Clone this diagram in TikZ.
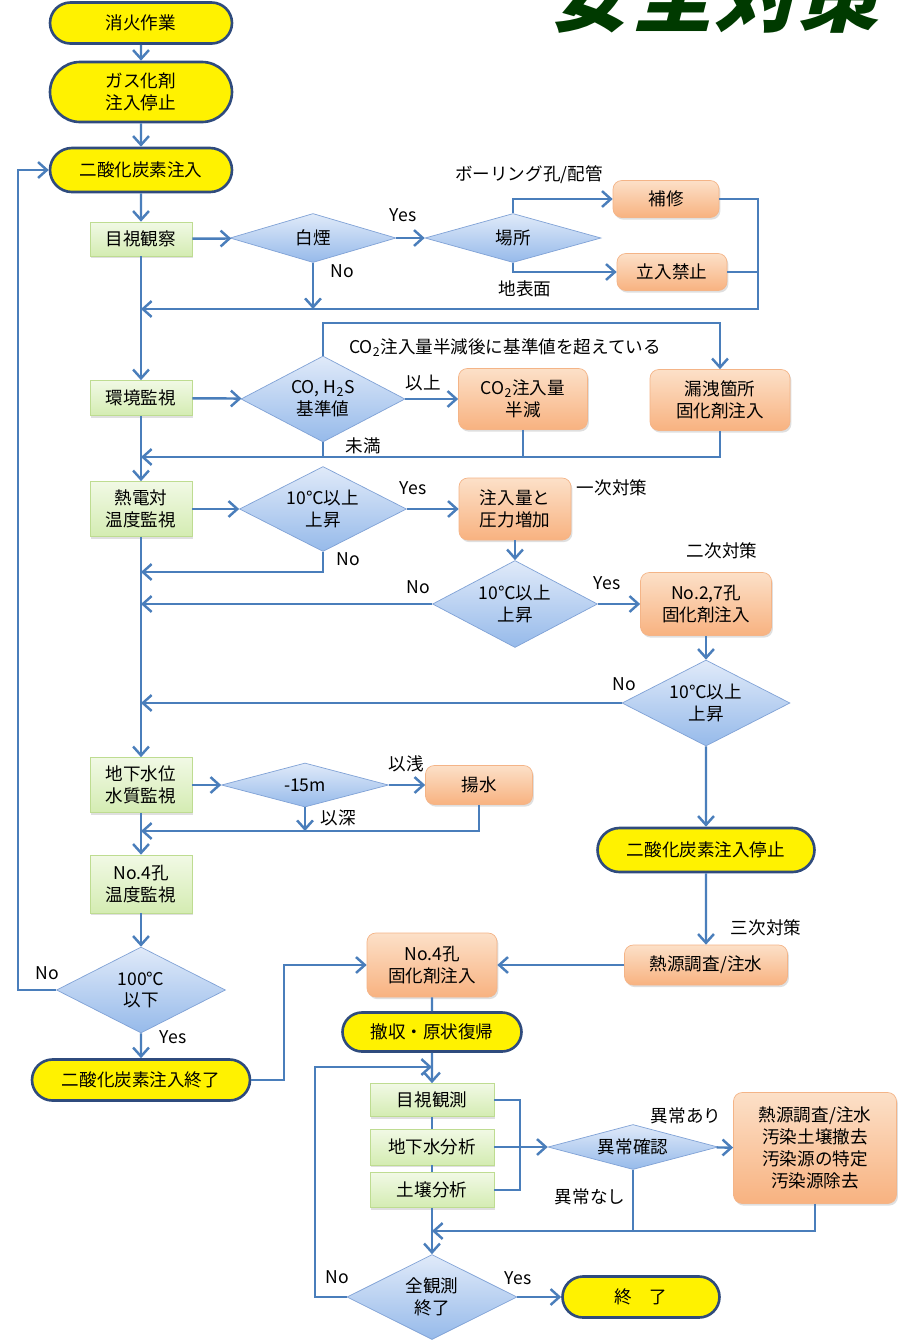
\documentclass[tikz,border=0pt]{standalone}
\usepackage{fontspec}
\setmainfont{Noto Sans CJK JP}
\newfontfamily\titlefont{Noto Sans CJK JP}[FakeSlant=0.25]
\usetikzlibrary{shapes.geometric,shapes.misc,arrows.meta,shadows}

\definecolor{flowblue}{RGB}{74,126,187}
\definecolor{termline}{RGB}{47,75,125}
\definecolor{titlegreen}{RGB}{0,58,0}
\definecolor{greentop}{RGB}{241,249,229}
\definecolor{greenbot}{RGB}{212,236,178}
\definecolor{greenline}{RGB}{190,220,145}
\definecolor{orangetop}{RGB}{252,224,200}
\definecolor{orangebot}{RGB}{248,178,128}
\definecolor{orangeline}{RGB}{244,180,135}
\definecolor{bluetop}{RGB}{224,234,249}
\definecolor{bluebot}{RGB}{150,186,234}
\definecolor{blueline}{RGB}{128,162,214}

\begin{document}
\begin{tikzpicture}[x=0.02cm,y=-0.02cm,font=\fontsize{10}{12.5}\selectfont]
  \tikzstyle{every node}+=[align=center]
  \tikzstyle{term}=[rounded rectangle, draw=termline, line width=1.5pt, fill=yellow, inner sep=0pt, minimum width=3.64cm]
  \tikzstyle{proc}=[rectangle, draw=greenline, top color=greentop, bottom color=greenbot, inner sep=0pt, minimum width=2.04cm, drop shadow={shadow xshift=0.8pt, shadow yshift=-1.2pt, opacity=0.25}]
  \tikzstyle{act}=[rectangle, rounded corners=5pt, draw=orangeline, top color=orangetop, bottom color=orangebot, inner sep=0pt, drop shadow={shadow xshift=0.8pt, shadow yshift=-1.2pt, opacity=0.25}]
  \tikzstyle{dec}=[diamond, draw=blueline, top color=bluetop, bottom color=bluebot, inner sep=0pt, aspect=2]
  \tikzstyle{flat}=[dec, aspect=3.5]
  \tikzstyle{flow}=[draw=flowblue, line width=1.4pt, -{Straight Barb[length=5pt,width=9pt]}]
  \tikzstyle{link}=[draw=flowblue, line width=1.4pt]

  \path[use as bounding box, clip] (0,0) rectangle (901,1340);
  \fill[white] (0,0) rectangle (901,1340);
  \node[font=\titlefont\bfseries\fontsize{47}{50}\selectfont, text=titlegreen, anchor=base] (title) at (714,25) {安全対策};

  % left column
  \node[term, minimum height=0.82cm] (n1) at (141,23) {消火作業};
  \node[term, minimum height=1.2cm] (n2) at (141,92) {ガス化剤\\注入停止};
  \node[term, minimum height=0.88cm] (n3) at (141,170) {二酸化炭素注入};
  \node[proc, minimum height=0.68cm] (kansatsu) at (141,239) {目視観察};
  \node[proc, minimum height=0.7cm] (kankyo) at (141,398) {環境監視};
  \node[proc, minimum height=1.1cm] (netsu) at (141,509) {熱電対\\温度監視};
  \node[proc, minimum height=1.1cm] (chika) at (141,785) {地下水位\\水質監視};
  \node[proc, minimum height=1.16cm] (no4) at (141,884) {No.4孔\\温度監視};
  \node[dec, minimum width=3.38cm, minimum height=1.72cm] (d100) at (141,990) {100℃\\以下};
  \node[term, minimum width=4.36cm, minimum height=0.82cm] (shuryo) at (141,1080) {二酸化炭素注入終了};

  % smoke
  \node[flat, minimum width=3.32cm, minimum height=0.98cm] (hakuen) at (313,238) {白煙};
  \node[flat, minimum width=3.52cm, minimum height=0.98cm] (basho) at (513,238) {場所};
  \node[act, minimum width=2.12cm, minimum height=0.74cm] (hoshu) at (666,199) {補修};
  \node[act, minimum width=2.2cm, minimum height=0.74cm] (tachiiri) at (672,272) {立入禁止};

  % gas
  \node[dec, minimum width=3.28cm, minimum height=1.72cm] (gas) at (323,399) {CO, H\textsubscript{2}S\\基準値};
  \node[act, minimum width=2.58cm, minimum height=1.22cm] (hangen) at (523,399) {CO\textsubscript{2}注入量\\半減};
  \node[act, minimum width=2.8cm, minimum height=1.22cm] (roei) at (720,400) {漏洩箇所\\固化剤注入};

  % temperature
  \node[dec, minimum width=3.34cm, minimum height=1.7cm] (d1) at (323,509) {10℃以上\\上昇};
  \node[act, minimum width=2.24cm, minimum height=1.24cm] (zoka) at (515,509) {注入量と\\圧力増加};
  \node[dec, minimum width=3.3cm, minimum height=1.74cm] (d2) at (515,604) {10℃以上\\上昇};
  \node[act, minimum width=2.62cm, minimum height=1.26cm] (no27) at (706,604) {No.2,7孔\\固化剤注入};
  \node[dec, minimum width=3.36cm, minimum height=1.72cm] (d3) at (706,703) {10℃以上\\上昇};
  \node[term, minimum width=4.34cm, minimum height=0.88cm] (teishi) at (706,850) {二酸化炭素注入停止};
  \node[act, minimum width=3.26cm, minimum height=0.8cm] (chousa) at (706,965) {熱源調査/注水};
  \node[act, minimum width=2.6cm, minimum height=1.28cm] (kotei) at (432,965) {No.4孔\\固化剤注入};

  % ground water
  \node[flat, minimum width=3.34cm, minimum height=0.88cm] (d15) at (305,785) {-15m};
  \node[act, minimum width=2.14cm, minimum height=0.78cm] (yousui) at (479,785) {揚水};

  % after injection
  \node[term, minimum width=3.58cm, minimum height=0.78cm] (tesshu) at (432,1032) {撤収・原状復帰};
  \node[proc, minimum width=2.48cm, minimum height=0.66cm] (mokushi) at (432,1100) {目視観測};
  \node[proc, minimum width=2.48cm, minimum height=0.72cm] (chikasui) at (432,1147) {地下水分析};
  \node[proc, minimum width=2.48cm, minimum height=0.7cm] (dojo) at (432,1190) {土壌分析};
  \node[flat, minimum width=3.4cm, minimum height=0.9cm] (ijou) at (633,1147) {異常確認};
  \node[act, minimum width=3.26cm, minimum height=2.22cm] (taisaku) at (815,1148) {熱源調査/注水\\汚染土壌撤去\\汚染源の特定\\汚染源除去};
  \node[dec, minimum width=3.4cm, minimum height=1.7cm] (zen) at (432,1297) {全観測\\終了};
  \node[term, minimum width=3.14cm, minimum height=0.82cm] (owari) at (641,1297) {終　了};

  % labels
  \node (yes1) at (403,215) {Yes};
  \node (no1) at (342,271) {No};
  \node (boring) at (529,175) {ボーリング孔/配管};
  \node (chihyo) at (525,289) {地表面};
  \node (koeru) at (505,348) {CO\textsubscript{2}注入量半減後に基準値を超えている};
  \node (ijo) at (423,383) {以上};
  \node (miman) at (363,446) {未満};
  \node (yes2) at (413,488) {Yes};
  \node (ichiji) at (612,488) {一次対策};
  \node (no2) at (348,559) {No};
  \node (no3) at (418,587) {No};
  \node (yes3) at (607,583) {Yes};
  \node (niji) at (722,551) {二次対策};
  \node (no4l) at (624,684) {No};
  \node (sanji) at (766,928) {三次対策};
  \node (isen) at (406,764) {以浅};
  \node (ishin) at (338,818) {以深};
  \node (no5) at (47,973) {No};
  \node (yes4) at (173,1037) {Yes};
  \node (ari) at (686,1116) {異常あり};
  \node (nashi) at (590,1197) {異常なし};
  \node (no6) at (337,1277) {No};
  \node (yes5) at (518,1278) {Yes};

  % junctions
  \coordinate (j1) at (141,309);
  \coordinate (j2) at (141,457);
  \coordinate (j3) at (141,572);
  \coordinate (j5) at (141,831);
  \coordinate (j6) at (432,1231);
  \coordinate (r1) at (758,309);
  \coordinate (r2) at (720,323);
  \coordinate (r3) at (18,990);
  \coordinate (r4) at (284,1080);
  \coordinate (r5) at (315,1067);
  \coordinate (r6) at (432,1067);
  \coordinate (r7) at (520,1147);

  \draw[flow] (n1) -- (n2);
  \draw[flow] (n2) -- (n3);
  \draw[flow] (n3) -- (kansatsu);
  \draw[flow] (kansatsu) -- (hakuen);
  \draw[flow] (hakuen) -- (basho);
  \draw[flow] (basho.north) |- (hoshu.west);
  \draw[flow] (basho.south) |- (tachiiri.west);
  \draw[flow] (hoshu.east) -| (r1) -- (j1);
  \draw[link] (tachiiri.east) -- (tachiiri.east -| r1);
  \draw[flow] (hakuen.south) -- (hakuen.south |- j1);
  \draw[flow] (kansatsu) -- (kankyo);

  \draw[flow] (kankyo) -- (gas);
  \draw[flow] (gas.north) |- (r2) -- (roei.north);
  \draw[flow] (gas.east) -- (hangen.west);
  \draw[link] (gas.south) -- (gas.south |- j2);
  \draw[link] (hangen.south) -- (hangen.south |- j2);
  \draw[flow] (roei.south) |- (j2);
  \draw[flow] (kankyo) -- (netsu);

  \draw[flow] (netsu) -- (d1);
  \draw[flow] (d1) -- (zoka);
  \draw[flow] (d1.south) |- (j3);
  \draw[flow] (zoka) -- (d2);
  \draw[flow] (d2.west) -- (d2.west -| j3);
  \draw[flow] (d2) -- (no27);
  \draw[flow] (no27) -- (d3);
  \draw[flow] (d3.west) -- (d3.west -| j3);
  \draw[flow] (d3) -- (teishi);
  \draw[flow] (teishi) -- (chousa);
  \draw[flow] (chousa) -- (kotei);

  \draw[flow] (netsu) -- (chika);
  \draw[flow] (chika) -- (d15);
  \draw[flow] (d15) -- (yousui);
  \draw[flow] (d15.south) -- (d15.south |- j5);
  \draw[flow] (yousui.south) |- (j5);
  \draw[flow] (chika) -- (no4);
  \draw[flow] (no4) -- (d100);
  \draw[flow] (d100.west) -- (r3) |- (n3.west);
  \draw[flow] (d100) -- (shuryo);
  \draw[flow] (shuryo.east) -- (r4) |- (kotei.west);

  \draw[link] (kotei) -- (tesshu);
  \draw[flow] (tesshu) -- (mokushi);
  \draw[flow] (zen.west) -| (r5) -- (r6);
  \draw[link] (mokushi) -- (chikasui);
  \draw[link] (chikasui) -- (dojo);
  \draw[link] (mokushi.east) -| (r7) |- (dojo.east);
  \draw[flow] (chikasui) -- (ijou);
  \draw[flow] (ijou) -- (taisaku);
  \draw[link] (ijou.south) -- (ijou.south |- j6);
  \draw[flow] (taisaku.south) |- (j6);
  \draw[flow] (dojo) -- (zen);
  \draw[flow] (zen) -- (owari);
\end{tikzpicture}
\end{document}
